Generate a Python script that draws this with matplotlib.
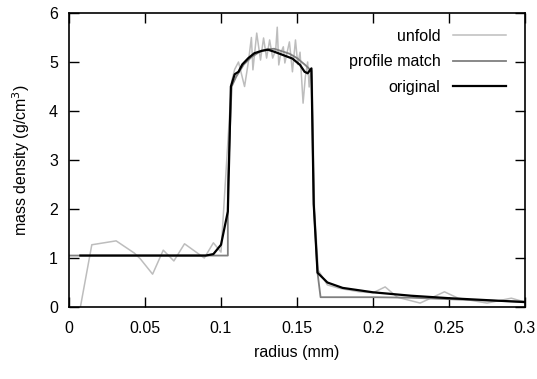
import matplotlib
matplotlib.use("Agg")
import matplotlib.pyplot as plt

plt.rcParams['font.family'] = ['Liberation Sans', 'DejaVu Sans']

# original (black)
orig_r = [0.0075, 0.09, 0.095, 0.1, 0.1045, 0.1065, 0.109, 0.1115, 0.114, 0.118, 0.122,
          0.127, 0.131, 0.135, 0.141, 0.147, 0.152, 0.155, 0.157, 0.1595, 0.161, 0.1635,
          0.17, 0.18, 0.2, 0.225, 0.25, 0.275, 0.3]
orig_rho = [1.05, 1.05, 1.08, 1.27, 1.95, 4.5, 4.75, 4.8, 4.95, 5.08, 5.18,
            5.23, 5.25, 5.21, 5.14, 5.07, 4.94, 4.8, 4.77, 4.87, 2.1, 0.7,
            0.5, 0.39, 0.3, 0.23, 0.18, 0.14, 0.1]

# profile match (mid grey)
prof_r = [0.0, 0.1045, 0.1045, 0.107, 0.11, 0.115, 0.12, 0.125, 0.13, 0.135, 0.14,
          0.145, 0.15, 0.155, 0.1595, 0.161, 0.1635, 0.1655, 0.2, 0.225, 0.25, 0.275, 0.3]
prof_rho = [1.05, 1.05, 2.5, 4.5, 4.7, 4.95, 5.1, 5.2, 5.26, 5.27, 5.22,
            5.17, 5.08, 4.95, 4.82, 2.1, 0.7, 0.2, 0.2, 0.19, 0.16, 0.13, 0.11]

# unfold (light grey)
unf_r = [0.0075, 0.015, 0.031, 0.043, 0.047, 0.055, 0.062, 0.069, 0.076, 0.089, 0.095, 0.1,
         0.107, 0.109, 0.1115, 0.1135, 0.1155, 0.118, 0.12, 0.121, 0.1235, 0.126, 0.128,
         0.13, 0.132, 0.134, 0.136, 0.137, 0.138, 0.1395, 0.141, 0.142, 0.145, 0.147,
         0.149, 0.1505, 0.152, 0.154, 0.1555, 0.157, 0.158, 0.159, 0.16, 0.1615, 0.164,
         0.17, 0.178, 0.191, 0.2, 0.208, 0.216, 0.231, 0.247, 0.256, 0.275, 0.291, 0.3]
unf_rho = [0.0, 1.27, 1.35, 1.1, 0.98, 0.67, 1.16, 0.94, 1.29, 1.0, 1.31, 1.12,
           4.6, 4.85, 5.0, 4.75, 4.5, 5.0, 5.5, 4.84, 5.59, 5.04, 5.49,
           5.08, 5.45, 5.08, 5.25, 5.71, 4.94, 5.2, 5.31, 4.98, 5.41, 4.8,
           5.45, 4.95, 5.2, 4.16, 4.7, 5.0, 4.49, 4.84, 4.6, 2.0, 0.75,
           0.45, 0.38, 0.31, 0.29, 0.41, 0.2, 0.08, 0.31, 0.18, 0.08, 0.18, 0.1]

x_ticks = [0, 0.05, 0.1, 0.15, 0.2, 0.25, 0.3]
x_labels = ['0', '0.05', '0.1', '0.15', '0.2', '0.25', '0.3']
y_ticks = [0, 1, 2, 3, 4, 5, 6]

fig = plt.figure(figsize=(5.37, 3.79), dpi=100)
ax = fig.add_axes([69/537, 72/379, 456/537, 294/379])

ax.plot(unf_r, unf_rho, color='#bdbdbd', lw=1.1, label='unfold')
ax.plot(prof_r, prof_rho, color='#7f7f7f', lw=1.3, label='profile match')
ax.plot(orig_r, orig_rho, color='black', lw=1.6, label='original')

ax.set_xlim(0, 0.3)
ax.set_ylim(0, 6)
ax.set_xticks(x_ticks)
ax.set_xticklabels(x_labels)
ax.set_yticks(y_ticks)
ax.tick_params(direction='in', length=7, width=1, top=True, right=True,
               labelsize=11.5, colors='black')
ax.tick_params(axis='x', pad=10)
ax.tick_params(axis='y', pad=8)
for s in ax.spines.values():
    s.set_linewidth(1.2)

ax.set_xlabel('radius (mm)', fontsize=11.5, labelpad=6.5)
ax.set_ylabel('mass density (g/cm$^3$)', fontsize=11.5, labelpad=12.5)

leg = ax.legend(loc='upper right', frameon=False, markerfirst=False, fontsize=11.5,
                handlelength=3.3, handletextpad=0.8, labelspacing=0.66,
                bbox_to_anchor=(0.99, 0.995))
for t in leg.get_texts():
    t.set_ha('right')
leg._legend_box.align = 'right'

fig.savefig('out.png', dpi=100)
